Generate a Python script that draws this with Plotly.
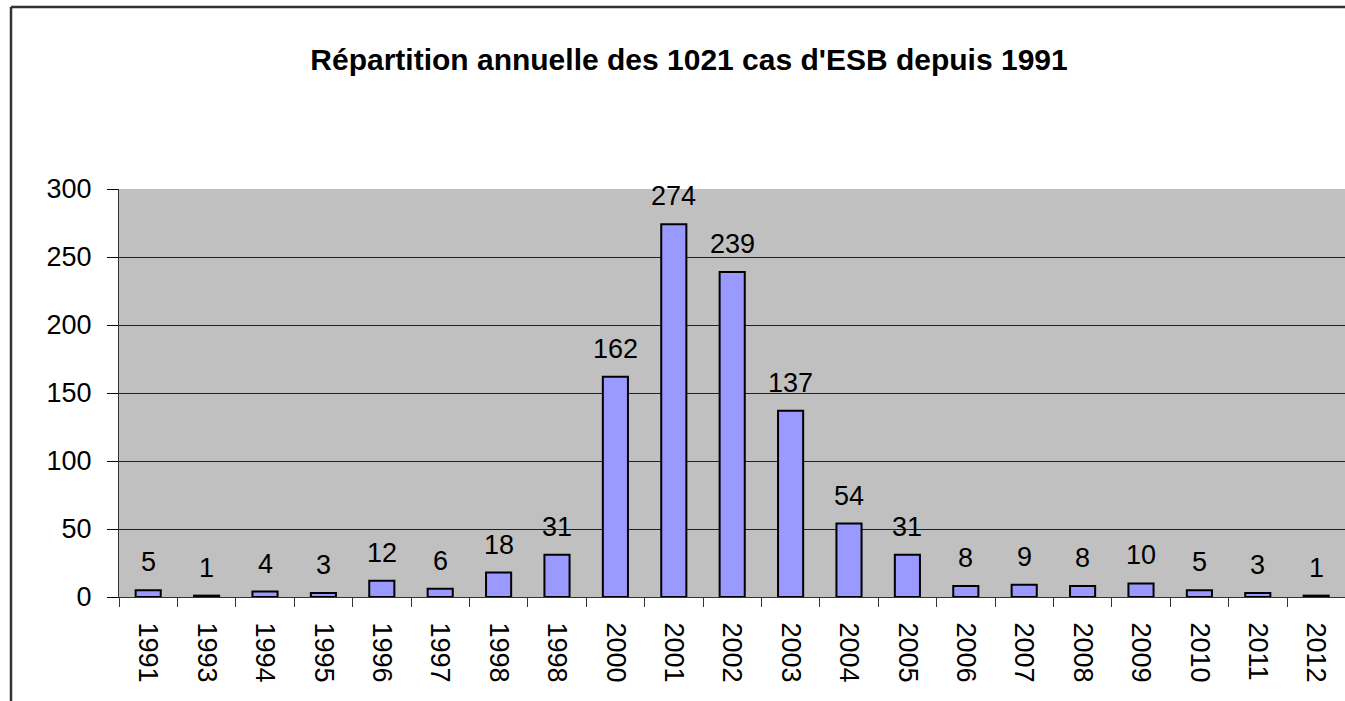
import plotly.graph_objects as go

title_text = "Répartition annuelle des 1021 cas d'ESB depuis 1991"
year_labels = ["1991", "1993", "1994", "1995", "1996", "1997", "1998", "1998",
               "2000", "2001", "2002", "2003", "2004", "2005", "2006", "2007",
               "2008", "2009", "2010", "2011", "2012"]
cases = [5, 1, 4, 3, 12, 6, 18, 31, 162, 274, 239, 137, 54, 31, 8, 9, 8, 10, 5, 3, 1]
y_ticks = [0, 50, 100, 150, 200, 250, 300]

W, H = 1345, 701
ML, MR, MT, MB = 119, 0, 189, 104
PW = W - ML - MR
PH = H - MT - MB

FONT = "Liberation Sans, Arial, sans-serif"

# unique keys for categories (labels contain duplicates)
keys = [f"c{i}" for i in range(len(year_labels))]

fig = go.Figure()
fig.add_trace(go.Bar(
    x=keys, y=cases,
    width=0.43,
    marker=dict(color="#9999FF", line=dict(color="black", width=2)),
    showlegend=False,
    hoverinfo="skip",
))

for k, v in zip(keys, cases):
    fig.add_annotation(x=k, y=v, text=str(v), showarrow=False,
                       yanchor="bottom", yshift=11,
                       font=dict(family=FONT, size=27, color="black"))

cat_px = 58.4
x_end = -0.5 + PW / cat_px

fig.update_layout(
    width=W, height=H,
    margin=dict(l=ML, r=MR, t=MT, b=MB, pad=0),
    paper_bgcolor="white",
    plot_bgcolor="#C0C0C0",
    title=dict(text="<b>" + title_text + "</b>", x=689 / W, xanchor="center",
               y=1 - 59 / H, yanchor="middle",
               font=dict(family=FONT, size=30, color="black")),
    xaxis=dict(
        type="category",
        tickmode="array", tickvals=keys, ticktext=year_labels,
        tickson="boundaries",
        range=[-0.5, x_end],
        tickangle=90,
        ticks="outside", ticklen=9, tickwidth=1, tickcolor="#333333",
        ticklabelstandoff=19,
        showline=True, linecolor="#333333", linewidth=1,
        showgrid=False,
        tickfont=dict(family=FONT, size=27, color="black"),
        fixedrange=True,
    ),
    yaxis=dict(
        range=[0, 300],
        tickmode="array", tickvals=y_ticks,
        ticks="outside", ticklen=11, tickwidth=1, tickcolor="black",
        ticklabelstandoff=10,
        showline=True, linecolor="#333333", linewidth=1,
        showgrid=True, gridcolor="#222222", gridwidth=1,
        zeroline=False,
        tickfont=dict(family=FONT, size=27, color="black"),
        fixedrange=True,
    ),
)

# outer chart frame (top and left visible, rest cropped)
fx0 = (11 - ML) / PW
fy0 = 1 + (MT - 7) / PH
fig.add_shape(type="line", xref="paper", yref="paper",
              x0=fx0, y0=fy0, x1=1, y1=fy0,
              line=dict(color="#333333", width=2.5))
fig.add_shape(type="line", xref="paper", yref="paper",
              x0=fx0, y0=fy0, x1=fx0, y1=-MB / PH,
              line=dict(color="#333333", width=2.5))

fig.write_html("out.html", config={"displayModeBar": False},
               post_script=("document.body.style.margin='0';"
                            "document.body.style.overflow='hidden';"
                            "document.documentElement.style.overflow='hidden';"))
